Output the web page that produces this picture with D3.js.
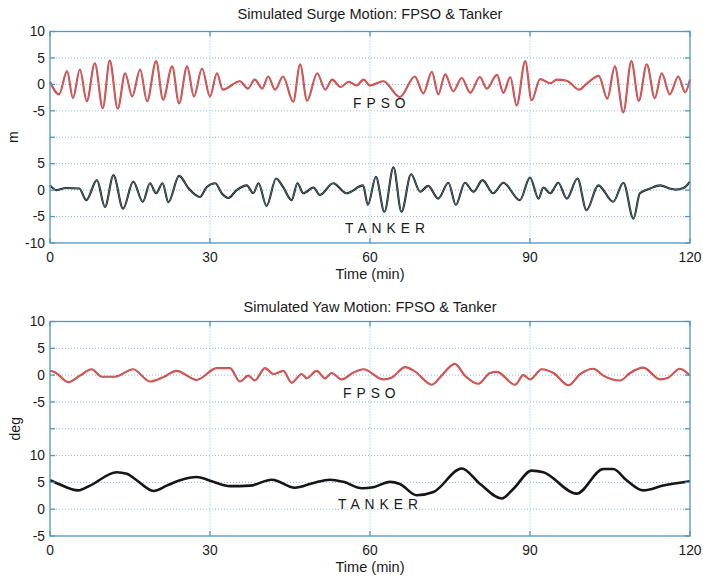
<!DOCTYPE html>
<html>
<head>
<meta charset="utf-8">
<script src="https://cdn.jsdelivr.net/npm/d3@7/dist/d3.min.js"></script>
<style>
  html, body { margin: 0; padding: 0; background: #fff; }
  text { font-family: "Liberation Sans", Arial, sans-serif; fill: #1a1a1a; }
</style>
</head>
<body>
<svg id="chart" width="703" height="577"></svg>
<script>
// ---------------- DATA ----------------
const xTicks = [0, 30, 60, 90, 120];
const yTicks = [10, 5, 0, -5, -10, -15, -20, -25, -30];
const surgeYLabels = ["10", "5", "0", "-5", "", "5", "0", "-5", "-10"];
const yawYLabels   = ["10", "5", "0", "-5", "", "10", "5", "0", "-5"];
const surgeTankerOffset = -20;
const yawTankerOffset = -25;

// Surge FPSO (m)
const surgeFpsoT = [0,1.7,3.2,4.3,5.6,6.9,8.4,9.9,11.2,12.7,14.1,15.4,16.9,18.2,19.9,21.2,22.9,24.2,25.7,27.0,28.5,30.0,31.3,32.4,35.6,37.1,38.4,39.8,40.9,42.2,43.7,45.6,46.9,48.2,50.1,51.6,52.9,54.5,56.0,57.5,58.8,60.0,62.5,65.6,68.4,70.0,71.6,72.8,74.1,75.6,77.2,78.8,80.6,81.9,83.8,85.0,86.3,87.5,89.1,90.3,91.9,93.8,95.0,96.9,99.2,100.8,102.9,104.5,105.9,107.5,109.0,110.4,111.9,113.4,114.7,116.2,117.8,119.1,120];
const surgeFpsoV = [0.5,-1.9,2.5,-2.6,2.8,-3.2,4.0,-4.5,4.5,-4.6,2.1,-2.3,2.8,-3.2,4.4,-2.9,3.4,-3.6,3.4,-2.3,3.0,-2.3,2.1,-1.0,0.6,-0.8,0.9,-0.8,1.5,-1.0,1.5,-3.3,3.8,-3.1,2.1,-1.0,0.9,-0.5,0.5,-0.2,0.9,-0.2,0.6,-2.4,1.5,-1.7,2.4,-1.9,1.9,-1.3,1.2,-1.6,1.4,-0.8,1.8,-1.6,1.4,-4.0,4.4,-3.0,1.0,0.2,0.9,0.7,-1.0,0.3,1.6,-2.7,3.4,-5.3,4.4,-3.1,3.8,-2.6,2.1,-1.9,1.5,-1.5,0.9];

// Surge Tanker (m)
const surgeTankerT = [0,1.2,3.0,5.5,6.8,8.8,10.3,11.9,13.7,15.6,17.4,18.75,19.9,21.1,22.2,24.2,26.0,28.1,29.4,31.0,32.2,33.4,35.0,36.9,38.1,39.1,40.6,42.4,43.75,45.3,46.4,47.5,49.4,50.6,53.1,55.6,58.7,59.6,61.1,62.7,64.4,65.9,67.7,69.4,70.9,72.8,74.7,76.1,77.8,79.4,81.1,83.1,85.0,88.1,90.0,91.6,92.5,93.8,95.3,96.9,98.9,100.6,102.8,105.6,107.5,109.4,110.6,112.5,114.4,116.2,117.2,118.8,120];
const surgeTankerV = [0.9,0.0,0.4,0.3,-1.9,1.9,-3.2,2.8,-3.5,1.6,-2.2,1.3,-0.6,1.3,-2.3,2.7,0.3,-1.3,0.6,1.3,-0.6,-1.5,0.0,0.9,-0.6,1.3,-3.0,2.2,0.5,-1.9,1.3,-0.6,0.5,-0.9,1.3,-0.6,0.9,-2.8,2.5,-4.1,4.3,-4.1,3.0,-0.3,0.8,-1.6,1.4,-2.8,1.4,-0.3,1.9,-0.6,1.4,-1.9,2.4,-1.6,0.5,-0.6,1.4,-1.6,2.2,-3.8,0.9,-2.2,1.4,-5.4,-0.6,0.3,0.9,0.3,0.1,0.4,1.6];

// Yaw FPSO (deg)
const yawFpsoT = [0,1.0,3.4,5.6,7.8,9.7,12.2,15.6,18.75,21.4,23.75,27.5,31.25,33.75,35.6,37.2,38.4,40.3,41.9,43.75,45.3,47.2,48.1,50.0,51.6,52.8,54.7,56.9,58.75,62.5,64.0,66.6,68.4,71.6,73.4,75.9,77.8,80.3,82.5,83.8,87.2,88.75,90.0,92.2,94.4,97.2,99.4,101.9,103.75,106.9,108.75,111.25,114.4,115.9,118.1,120];
const yawFpsoV = [0.8,0.5,-1.3,-0.1,1.1,-0.3,-0.3,1.1,-1.2,-0.3,0.8,-0.9,1.3,1.3,-1.2,-0.1,-1.0,1.3,0.2,0.8,-1.4,0.2,-0.6,0.8,-0.6,0.4,-0.8,0.5,1.1,-0.8,-0.5,1.5,0.7,-1.8,-0.1,2.1,-0.1,-1.6,0.4,0.6,-1.8,0.0,-0.8,1.1,0.4,-1.9,0.2,1.2,-0.1,-1.0,0.4,1.4,-0.8,-0.5,1.2,-0.1];

// Yaw Tanker (deg)
const yawTankerT = [0,1.5,5.3,7.5,12.5,14.4,16.25,19.4,21.9,24.4,27.5,30.6,33.75,37.5,41.6,45.9,49.4,52.5,55.0,58.5,60.6,63.75,65.6,68.75,71.9,77.2,80.6,84.7,86.9,90.3,92.5,98.75,103.75,105.6,108.1,111.25,115.0,120];
const yawTankerV = [5.4,4.75,3.5,4.4,6.9,6.6,5.4,3.4,4.4,5.4,6.0,5.1,4.3,4.4,5.5,4.0,4.9,5.5,5.1,3.9,4.1,5.1,4.7,2.6,3.2,7.6,4.75,2.0,3.8,7.2,6.9,2.9,7.5,7.5,5.4,3.5,4.4,5.2];

// ---------------- DRAWING ----------------
const svg = d3.select("#chart");
const axisColor = "#4f97c6";
const gridColor = "#8dbcdb";
const x = d3.scaleLinear().domain([0, 120]).range([50, 690]);

function panel(cfg) {
  const y = d3.scaleLinear().domain([-30, 10]).range([cfg.bottom, cfg.top]);
  const g = svg.append("g");

  // grid
  g.selectAll(".gx").data(xTicks.filter(t => t > 0 && t < 120)).enter().append("line")
    .attr("x1", d => x(d)).attr("x2", d => x(d))
    .attr("y1", cfg.top).attr("y2", cfg.bottom)
    .attr("stroke", gridColor).attr("stroke-width", 1).attr("stroke-dasharray", "1,2");
  g.selectAll(".gy").data(yTicks.filter(t => t > -30 && t < 10)).enter().append("line")
    .attr("x1", 50).attr("x2", 690)
    .attr("y1", d => y(d)).attr("y2", d => y(d))
    .attr("stroke", gridColor).attr("stroke-width", 1).attr("stroke-dasharray", "1,2");

  // series
  const line = d3.line().x(d => x(d[0])).y(d => y(d[1])).curve(d3.curveMonotoneX);
  const fp = cfg.fpT.map((t, i) => [t, cfg.fpV[i]]);
  const tk = cfg.tkT.map((t, i) => [t, cfg.tkV[i] + cfg.offset]);

  g.append("path").datum(fp).attr("d", line).attr("fill", "none")
    .attr("stroke", "#e63b2e").attr("stroke-width", 2.1).attr("stroke-linejoin", "round");
  g.append("path").datum(fp).attr("d", line).attr("fill", "none")
    .attr("stroke", "#8a90ae").attr("stroke-width", 0.7).attr("opacity", 0.9);
  g.append("path").datum(tk).attr("d", line).attr("fill", "none")
    .attr("stroke", "#161616").attr("stroke-width", cfg.tkWidth).attr("stroke-linejoin", "round");
  g.append("path").datum(tk).attr("d", line).attr("fill", "none")
    .attr("stroke", cfg.tkOverlay).attr("stroke-width", 0.7).attr("opacity", cfg.tkOverlayOp);

  // box
  g.append("rect").attr("x", 50).attr("y", cfg.top).attr("width", 640).attr("height", cfg.bottom - cfg.top)
    .attr("fill", "none").attr("stroke", axisColor).attr("stroke-width", 1.3);

  // ticks (inward, all sides)
  const tl = 5;
  xTicks.forEach(t => {
    g.append("line").attr("x1", x(t)).attr("x2", x(t)).attr("y1", cfg.bottom).attr("y2", cfg.bottom - tl)
      .attr("stroke", axisColor).attr("stroke-width", 1.3);
    g.append("line").attr("x1", x(t)).attr("x2", x(t)).attr("y1", cfg.top).attr("y2", cfg.top + tl)
      .attr("stroke", axisColor).attr("stroke-width", 1.3);
  });
  yTicks.forEach(t => {
    g.append("line").attr("x1", 50).attr("x2", 50 + tl).attr("y1", y(t)).attr("y2", y(t))
      .attr("stroke", axisColor).attr("stroke-width", 1.3);
    g.append("line").attr("x1", 690).attr("x2", 690 - tl).attr("y1", y(t)).attr("y2", y(t))
      .attr("stroke", axisColor).attr("stroke-width", 1.3);
  });

  // tick labels
  g.selectAll(".yl").data(yTicks).enter().append("text")
    .attr("x", 45).attr("y", d => y(d) + 4.8)
    .attr("text-anchor", "end").attr("font-size", "13.8px")
    .text((d, i) => cfg.yLabels[i]);
  g.selectAll(".xl").data(xTicks).enter().append("text")
    .attr("x", d => x(d)).attr("y", cfg.bottom + 19)
    .attr("text-anchor", "middle").attr("font-size", "13.8px")
    .text(d => d);

  // titles / labels
  g.append("text").attr("x", 370).attr("y", cfg.titleY).attr("text-anchor", "middle")
    .attr("font-size", "14.6px").text(cfg.title);
  g.append("text").attr("x", 370).attr("y", cfg.bottom + 35.5).attr("text-anchor", "middle")
    .attr("font-size", "14.6px").text("Time (min)");
  g.append("text").attr("transform", `translate(${cfg.ylabX},${(cfg.top + cfg.bottom) / 2}) rotate(-90)`)
    .attr("text-anchor", "middle").attr("font-size", "14px").text(cfg.ylabel);

  g.append("text").attr("x", cfg.fpLab[0]).attr("y", cfg.fpLab[1])
    .attr("font-size", "13.8px").attr("letter-spacing", "5px").text("FPSO");
  g.append("text").attr("x", cfg.tkLab[0]).attr("y", cfg.tkLab[1])
    .attr("font-size", "13.8px").attr("letter-spacing", "5px").text("TANKER");
}

panel({
  top: 31.5, bottom: 243, titleY: 19,
  title: "Simulated Surge Motion: FPSO & Tanker",
  ylabel: "m", ylabX: 18,
  yLabels: surgeYLabels, offset: surgeTankerOffset,
  fpT: surgeFpsoT, fpV: surgeFpsoV, tkT: surgeTankerT, tkV: surgeTankerV,
  tkWidth: 2.1, tkOverlay: "#6aa2b4", tkOverlayOp: 0.9,
  fpLab: [353, 108], tkLab: [345, 233]
});

panel({
  top: 321.5, bottom: 536, titleY: 311.5,
  title: "Simulated Yaw Motion: FPSO & Tanker",
  ylabel: "deg", ylabX: 20,
  yLabels: yawYLabels, offset: yawTankerOffset,
  fpT: yawFpsoT, fpV: yawFpsoV, tkT: yawTankerT, tkV: yawTankerV,
  tkWidth: 2.6, tkOverlay: "#161616", tkOverlayOp: 0,
  fpLab: [343, 398], tkLab: [338, 509]
});
</script>
</body>
</html>
